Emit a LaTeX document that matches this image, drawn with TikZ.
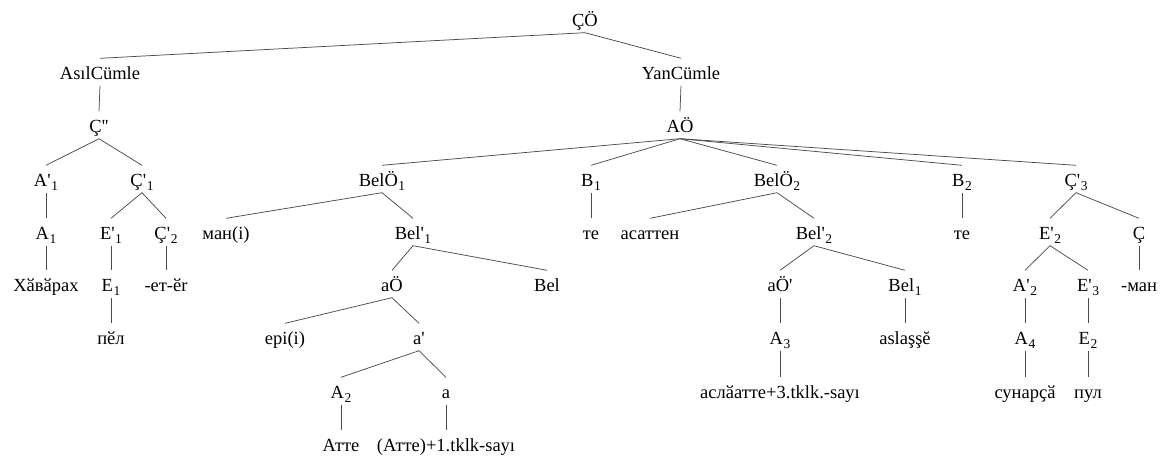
\documentclass[tikz,border=0pt]{standalone}
\usepackage{fontspec}
\setmainfont{Liberation Serif}[Ligatures=TeXOff]
\newcommand\lo[1]{\kern0.6pt\raisebox{-4pt}{\fontsize{13.5}{14}\selectfont #1}}
\begin{document}
\begin{tikzpicture}[x=1pt,y=-1pt,
  lab/.style={inner sep=0pt, text height=20.5pt, text depth=6.5pt, anchor=base,
    font=\fontsize{18.5}{22}\selectfont},
  br/.style={draw=black!70, line width=0.75pt}]
\useasboundingbox (0,0) rectangle (1164,455);

% level 1
\node[lab] (CO) at (585,26) {ÇÖ};
% level 2
\node[lab] (asil) at (100,79) {AsılCümle};
\node[lab] (yan) at (681,79) {YanCümle};
% level 3
\node[lab] (C2) at (99,132) {Ç''};
\node[lab] (AO) at (680,132) {AÖ};
% level 4
\node[lab] (Ap1) at (46,186) {A'\lo{1}};
\node[lab] (Cp1) at (142,186) {Ç'\lo{1}};
\node[lab] (BelO1) at (382,186) {BelÖ\lo{1}};
\node[lab] (B1) at (591,186) {B\lo{1}};
\node[lab] (BelO2) at (777,186) {BelÖ\lo{2}};
\node[lab] (B2) at (962,186) {B\lo{2}};
\node[lab] (Cp3) at (1076,186) {Ç'\lo{3}};
% level 5
\node[lab] (A1) at (46,239) {A\lo{1}};
\node[lab] (Ep1) at (111,239) {E'\lo{1}};
\node[lab] (Cp2) at (166,239) {Ç'\lo{2}};
\node[lab] (man) at (226,239) {ман(i)};
\node[lab] (Belp1) at (413,239) {Bel'\lo{1}};
\node[lab] (te1) at (591,239) {те};
\node[lab] (asatten) at (650,239) {асаттен};
\node[lab] (Belp2) at (814,239) {Bel'\lo{2}};
\node[lab] (te2) at (962,239) {те};
\node[lab] (Ep2) at (1050,239) {E'\lo{2}};
\node[lab] (C) at (1139,239) {Ç};
% level 6
\node[lab] (xavarax) at (46,291) {Хӑвӑрах};
\node[lab] (E1) at (111,291) {E\lo{1}};
\node[lab] (etar) at (166,291) {-ет-ӗr};
\node[lab] (aO) at (392,291) {aÖ};
\node[lab] (Bel) at (547,291) {Bel};
\node[lab] (aOp) at (780,291) {aÖ'};
\node[lab] (Bel1) at (905,291) {Bel\lo{1}};
\node[lab] (Ap2) at (1025,291) {A'\lo{2}};
\node[lab] (Ep3) at (1088,291) {E'\lo{3}};
\node[lab] (sman) at (1139,291) {-ман};
% level 7
\node[lab] (pel) at (111,344) {пӗл};
\node[lab] (epi) at (285,344) {epi(i)};
\node[lab] (ap) at (419,344) {a'};
\node[lab] (A3) at (780,344) {A\lo{3}};
\node[lab] (aslasse) at (905,344) {aslaşşĕ};
\node[lab] (A4) at (1025,344) {A\lo{4}};
\node[lab] (E2) at (1088,344) {E\lo{2}};
% level 8
\node[lab] (A2) at (341,398) {A\lo{2}};
\node[lab] (a) at (446,398) {a};
\node[lab] (aslaatte) at (780,398) {аслӑатте+3.tklk.-sayı};
\node[lab] (sunarca) at (1025,398) {сунарҫӑ};
\node[lab] (pul) at (1088,398) {пул};
% level 9
\node[lab] (atte) at (341,451) {Атте};
\node[lab] (atte1) at (446,451) {(Атте)+1.tklk-sayı};

% branches
\draw[br] (CO.south) -- (asil.north);
\draw[br] (CO.south) -- (yan.north);
\draw[br] (asil.south) -- (C2.north);
\draw[br] (C2.south) -- (Ap1.north);
\draw[br] (C2.south) -- (Cp1.north);
\draw[br] (Ap1.south) -- (A1.north);
\draw[br] (A1.south) -- (xavarax.north);
\draw[br] (Cp1.south) -- (Ep1.north);
\draw[br] (Cp1.south) -- (Cp2.north);
\draw[br] (Ep1.south) -- (E1.north);
\draw[br] (E1.south) -- (pel.north);
\draw[br] (Cp2.south) -- (etar.north);
\draw[br] (yan.south) -- (AO.north);
\draw[br] (AO.south) -- (BelO1.north);
\draw[br] (AO.south) -- (B1.north);
\draw[br] (AO.south) -- (BelO2.north);
\draw[br] (AO.south) -- (B2.north);
\draw[br] (AO.south) -- (Cp3.north);
\draw[br] (BelO1.south) -- (man.north);
\draw[br] (BelO1.south) -- (Belp1.north);
\draw[br] (Belp1.south) -- (aO.north);
\draw[br] (Belp1.south) -- (Bel.north);
\draw[br] (aO.south) -- (epi.north);
\draw[br] (aO.south) -- (ap.north);
\draw[br] (ap.south) -- (A2.north);
\draw[br] (ap.south) -- (a.north);
\draw[br] (A2.south) -- (atte.north);
\draw[br] (a.south) -- (atte1.north);
\draw[br] (B1.south) -- (te1.north);
\draw[br] (BelO2.south) -- (asatten.north);
\draw[br] (BelO2.south) -- (Belp2.north);
\draw[br] (Belp2.south) -- (aOp.north);
\draw[br] (Belp2.south) -- (Bel1.north);
\draw[br] (aOp.south) -- (A3.north);
\draw[br] (A3.south) -- (aslaatte.north);
\draw[br] (Bel1.south) -- (aslasse.north);
\draw[br] (B2.south) -- (te2.north);
\draw[br] (Cp3.south) -- (Ep2.north);
\draw[br] (Cp3.south) -- (C.north);
\draw[br] (Ep2.south) -- (Ap2.north);
\draw[br] (Ep2.south) -- (Ep3.north);
\draw[br] (Ap2.south) -- (A4.north);
\draw[br] (A4.south) -- (sunarca.north);
\draw[br] (Ep3.south) -- (E2.north);
\draw[br] (E2.south) -- (pul.north);
\draw[br] (C.south) -- (sman.north);
\end{tikzpicture}
\end{document}
